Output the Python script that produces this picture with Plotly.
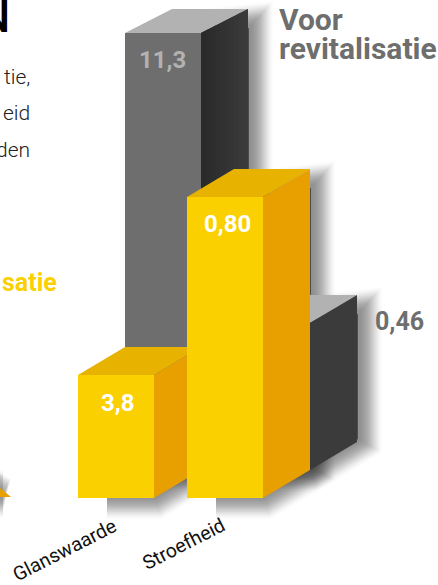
import plotly.graph_objects as go

# ---- data ----
categories = ["Glanswaarde", "Stroefheid"]
labels_before = ["11,3", "0,46"]
labels_after = ["3,8", "0,80"]
heights_before = [437, 147]   # apparent bar heights
heights_after = [123, 301]
depth_rise_before = [24, 28]
series_name = ["Voor", "revitalisatie"]

W, H = 438, 585
base_px = 498
group_left = [78, 187]
bar_w = 76
depth_x, depth_y = 47, 28

Y_FRONT, Y_SIDE, Y_TOP = "#FBD000", "#E8A000", "#E8B200"
G_FRONT, G_SIDE, G_TOP = "#6E6E6E", "#3B3B3B", "#B2B2B2"

fig = go.Figure()


def poly(xs, ys, color):
    fig.add_trace(go.Scatter(x=xs + xs[:1], y=ys + ys[:1], mode="lines", fill="toself",
                             fillcolor=color, line=dict(width=0, color=color),
                             hoverinfo="skip", showlegend=False))


def smooth(v):
    return v * v * (3 - 2 * v)


def blur(xs, ys, peak=0.5, reach=25):
    xs = xs + xs[:1]
    ys = ys + ys[:1]
    for d in range(reach, 0, -1):
        a = peak * (smooth(d / reach) - smooth((d - 1) / reach))
        col = f"rgba(0,0,0,{a:.4f})"
        fig.add_trace(go.Scatter(x=xs, y=ys, mode="lines", fill="toself",
                                 fillcolor=col, line=dict(width=2 * d, color=col),
                                 hoverinfo="skip", showlegend=False))


def shadow(x0, h, base, rise):
    x1 = x0 + bar_w
    t = base + h
    sx0, off_x, off_y = x0 + 28, 1, 3
    xs = [sx0, x1, x1 + depth_x, x1 + depth_x, x0 + depth_x + 18, sx0]
    ys = [base, base, base + rise, t + rise - 22, t + rise - 29, t + rise * 0.3 - 29]
    blur([v + off_x for v in xs], [v + off_y for v in ys])


def box(x0, h, base, rise, front, side, top, strips=1):
    x1 = x0 + bar_w
    t = base + h
    poly([x0, x1, x1 + depth_x, x0 + depth_x], [t, t, t + rise, t + rise], top)
    poly([x0, x1, x1, x0], [base, base, t, t], front)
    poly([x1, x1 + depth_x, x1 + depth_x, x1], [base, base + rise, t + rise, t], side)
    if strips > 1:
        for s in range(strips):
            a = x1 + depth_x * s / strips
            b = x1 + depth_x * (s + 1) / strips + (0.5 if s < strips - 1 else 0)
            ra = rise * s / strips
            rb = rise * (b - x1) / depth_x
            g = int(0x2A + (0x3B - 0x2A) * s / (strips - 1))
            poly([a, b, b, a], [base + ra, base + rb, t + rb, t + ra], f"rgb({g},{g},{g})")


# shadows first
for i in range(2):
    shadow(group_left[i] + depth_x, heights_before[i], depth_y, depth_rise_before[i])
for i in range(2):
    shadow(group_left[i], heights_after[i], 0, depth_y)
blur([-25, 3, -25], [4, 4, 18])

# back row, then front row
for i in range(2):
    box(group_left[i] + depth_x, heights_before[i], depth_y, depth_rise_before[i], G_FRONT, G_SIDE, G_TOP,
        strips=10 if i == 0 else 1)
for i in range(2):
    box(group_left[i], heights_after[i], 0, depth_y, Y_FRONT, Y_SIDE, Y_TOP)
# tip of the cropped neighbouring bar at the left edge
poly([0, 11, 0], [1, 1, 10], Y_SIDE)

FONT = "Roboto"
def py(y):
    return base_px - y


def note(text, x, y, size, color, anchor="center", weight=700, angle=0):
    fig.add_annotation(x=x, y=py(y), text=text, showarrow=False, xanchor=anchor, yanchor="middle",
                       textangle=angle, font=dict(family=FONT, size=size, color=color, weight=weight))


note(labels_before[0], 162, 60, 24, "#B2B2B2")
note(labels_after[0], 117, 403, 24, "#FFFFFF")
note(labels_after[1], 227, 224, 24, "#FFFFFF")
note(labels_before[1], 399.5, 321, 25, "#6E6E6E")
note(series_name[0], 277, 19, 30, "#6E6E6E", anchor="left")
note(series_name[1], 277, 48, 30, "#6E6E6E", anchor="left")
note("N", 12, 17, 44, "#000000", anchor="right", weight=500)
note("tie,", 32, 77, 21, "#222222", anchor="right", weight=300)
note("eid", 32, 113, 21, "#222222", anchor="right", weight=300)
note("den", 32, 150, 21, "#222222", anchor="right", weight=300)
note("satie", 59, 282, 25, "#FBD000", anchor="right")
note(categories[0], 64, 550, 19.5, "#111111", angle=-27, weight=400)
note(categories[1], 183, 544, 19.5, "#111111", angle=-27, weight=400)

fig.update_layout(width=W, height=H, margin=dict(l=0, r=0, t=0, b=0),
                  paper_bgcolor="white", plot_bgcolor="white", showlegend=False,
                  xaxis=dict(range=[0, W], visible=False, fixedrange=True),
                  yaxis=dict(range=[base_px - H, base_px], visible=False, fixedrange=True))
fig.write_html("out.html", config={"displayModeBar": False},
               post_script="document.body.style.margin='0';document.body.style.overflow='hidden';")
